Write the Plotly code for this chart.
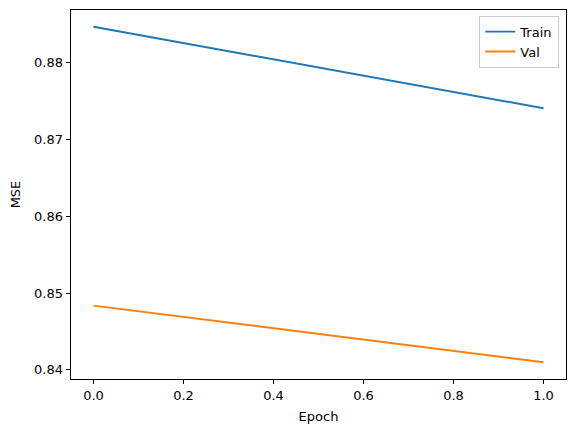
import plotly.graph_objects as go

epochs = [0, 1]
train_mse = [0.88468, 0.87407]
val_mse = [0.84836, 0.84099]

font = dict(family="DejaVu Sans", size=13, color="black")

fig = go.Figure()
fig.add_trace(go.Scatter(x=epochs, y=train_mse, mode="lines", name="Train",
                         line=dict(color="#1f77b4", width=1.9)))
fig.add_trace(go.Scatter(x=epochs, y=val_mse, mode="lines", name="Val",
                         line=dict(color="#ff7f0e", width=1.9)))

allv = train_mse + val_mse
lo, hi = min(allv), max(allv)
pad = (hi - lo) * 0.05

axis_common = dict(showline=True, linecolor="black", linewidth=1, mirror=True,
                   ticks="outside", ticklen=4.4, tickwidth=1, tickcolor="black",
                   showgrid=False, zeroline=False, tickfont=font)

fig.update_layout(
    width=576, height=432,
    margin=dict(l=71, r=10, t=10, b=53),
    paper_bgcolor="white", plot_bgcolor="white",
    font=font,
    xaxis=dict(range=[-0.05, 1.05], dtick=0.2, tick0=0, tickformat=".1f",
               title=dict(text="Epoch", font=font, standoff=9), **axis_common),
    yaxis=dict(range=[lo - pad, hi + pad], dtick=0.01, tick0=0.84, tickformat=".2f",
               title=dict(text="MSE", font=font, standoff=10), **axis_common),
    legend=dict(x=0.9865, y=0.9846, xanchor="right", yanchor="top",
                bgcolor="rgba(255,255,255,0.8)", bordercolor="#cccccc", borderwidth=1,
                font=font, itemwidth=30, tracegroupgap=0),
    showlegend=True,
)

fig.write_html("out.html")
